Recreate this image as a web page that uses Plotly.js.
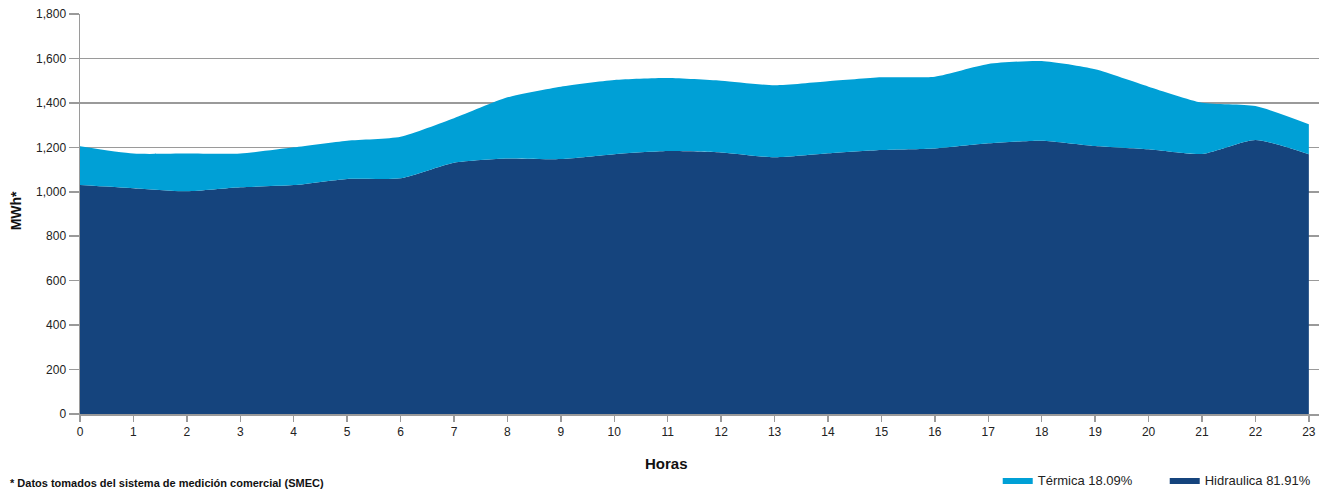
<!DOCTYPE html>
<html>
<head>
<meta charset="utf-8">
<script src="https://cdn.plot.ly/plotly-3.0.1.min.js"></script>
<style>html,body{margin:0;padding:0;background:#fff;}#chart{width:1328px;height:489px;}</style>
</head>
<body>
<div id="chart"></div>
<script>
const horas = [0,1,2,3,4,5,6,7,8,9,10,11,12,13,14,15,16,17,18,19,20,21,22,23];
const hidraulica = [1030,1016,1002,1020,1030,1058,1061,1131,1150,1147,1169,1183,1177,1155,1173,1188,1195,1218,1230,1206,1191,1170,1233,1169];
const termica = [175,156,170,152,170,172,187,200,275,326,334,329,323,324,324,327,323,357,358,345,282,231,153,135];
const nombres = ['Hidraulica 81.91%', 'Térmica 18.09%'];
const colores = ['#15447D', '#00A0D6'];
const yTicks = [0,200,400,600,800,1000,1200,1400,1600,1800];

const FONT = 'Liberation Sans, Arial, sans-serif';

const traces = [
  {x: horas, y: hidraulica, name: nombres[0], type: 'scatter', mode: 'lines',
   stackgroup: 'one', line: {width: 0, shape: 'spline', smoothing: 0.6},
   fillcolor: colores[0], hoverinfo: 'skip'},
  {x: horas, y: termica, name: nombres[1], type: 'scatter', mode: 'lines',
   stackgroup: 'one', line: {width: 0, shape: 'spline', smoothing: 0.6},
   fillcolor: colores[1], hoverinfo: 'skip'}
];

const layout = {
  width: 1328, height: 489,
  margin: {l: 80, r: 9, t: 14, b: 75, autoexpand: false},
  paper_bgcolor: '#ffffff', plot_bgcolor: '#ffffff',
  font: {family: FONT, size: 12, color: '#222'},
  showlegend: true,
  legend: {orientation: 'h', x: 0.7407, xanchor: 'left', y: -0.165, yanchor: 'middle',
           entrywidth: 122, entrywidthmode: 'pixels',
           traceorder: 'reversed', font: {size: 13, color: '#222'}, itemclick: false},
  xaxis: {range: [0, 23.19], tickvals: horas, ticktext: horas.map(String),
          showgrid: false, zeroline: false, showline: true, linecolor: '#9a9a9a', linewidth: 1.5,
          ticks: 'outside', ticklen: 6, tickcolor: '#9a9a9a', tickwidth: 1.5,
          tickfont: {size: 12, color: '#222'}},
  yaxis: {range: [0, 1800], tickvals: yTicks, tickformat: ',d',
          showgrid: true, gridcolor: '#9a9a9a', gridwidth: 1.5,
          zeroline: false, showline: true, linecolor: '#9a9a9a', linewidth: 1.5,
          ticks: 'outside', ticklen: 10, tickcolor: '#9a9a9a', tickwidth: 1.5,
          tickfont: {size: 12, color: '#222'}},
  annotations: [
    {text: '<b>Horas</b>', xref: 'paper', yref: 'paper', x: 0.4737, y: -0.1225,
     xanchor: 'center', yanchor: 'middle', showarrow: false, font: {size: 15, color: '#111'}},
    {text: '<b>MWh*</b>', xref: 'paper', yref: 'paper', x: -0.0514, y: 0.5075,
     xanchor: 'center', yanchor: 'middle', textangle: -90, showarrow: false, font: {size: 14, color: '#111'}},
    {text: '<b>* Datos tomados del sistema de medición comercial (SMEC)</b>', xref: 'paper', yref: 'paper',
     x: -0.058, y: -0.172, xanchor: 'left', yanchor: 'middle', showarrow: false, font: {size: 11, color: '#111'}}
  ]
};

Plotly.newPlot('chart', traces, layout, {displayModeBar: false, staticPlot: true});
</script>
</body>
</html>
